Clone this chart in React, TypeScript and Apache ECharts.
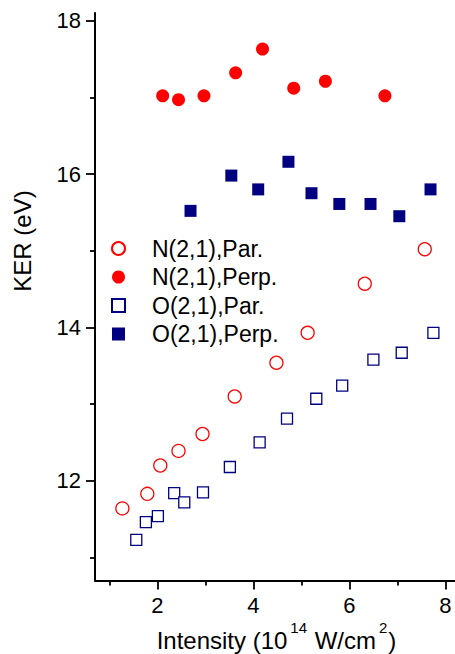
import React, { useEffect, useRef } from "react";
import * as echarts from "echarts";

const FONT = "'Liberation Sans', Arial, Helvetica, sans-serif";

// N(2,1), parallel (open red circles)
const nParX = [1.27, 1.79, 2.06, 2.44, 2.94, 3.61, 4.48, 5.13, 6.32, 7.57];
const nParY = [11.64, 11.83, 12.2, 12.39, 12.61, 13.1, 13.54, 13.93, 14.57, 15.02];
// N(2,1), perpendicular (filled red circles)
const nPerpX = [2.11, 2.44, 2.97, 3.63, 4.19, 4.84, 5.5, 6.74];
const nPerpY = [17.02, 16.97, 17.02, 17.32, 17.63, 17.12, 17.21, 17.02];
// O(2,1), parallel (open navy squares)
const oParX = [1.56, 1.76, 2.01, 2.35, 2.56, 2.95, 3.51, 4.13, 4.7, 5.31, 5.85, 6.5, 7.09, 7.75];
const oParY = [11.23, 11.46, 11.54, 11.84, 11.72, 11.85, 12.18, 12.5, 12.81, 13.07, 13.24, 13.58, 13.67, 13.93];
// O(2,1), perpendicular (filled navy squares)
const oPerpX = [2.69, 3.54, 4.1, 4.73, 5.21, 5.79, 6.44, 7.04, 7.69];
const oPerpY = [15.52, 15.98, 15.8, 16.16, 15.75, 15.61, 15.61, 15.45, 15.8];

const seriesNames = ["N(2,1),Par.", "N(2,1),Perp.", "O(2,1),Par.", "O(2,1),Perp."];

const xMajor = [2, 4, 6, 8];
const xMinor = [1, 3, 5, 7];
const yMajor = [12, 14, 16, 18];
const yMinor = [11, 13, 15, 17];

// x-axis title pieces (superscripts flagged)
const xTitleParts = [
  { t: "Intensity (10", sup: false },
  { t: "14", sup: true },
  { t: " W/cm", sup: false },
  { t: "2", sup: true },
  { t: ")", sup: false },
];
const yTitle = "KER (eV)";

const X_MIN = 0.7;
const X_MAX = 8.2;
const Y_MIN = 10.7;
const Y_MAX = 18.1;

const RED = "#ff0000";
const NAVY = "#000080";

const zip = (xs: number[], ys: number[]) => xs.map((x, i) => [x, ys[i]]);

function buildXTitle(centerX: number, mainY: number, supY: number) {
  const MAIN = 24;
  const SUP = 15;
  const canvas = document.createElement("canvas");
  const ctx = canvas.getContext("2d");
  const measure = (text: string, size: number) => {
    if (!ctx) return text.length * size * 0.55;
    ctx.font = `${size}px ${FONT}`;
    return ctx.measureText(text).width;
  };
  const pieces = xTitleParts.map((p) => {
    const size = p.sup ? SUP : MAIN;
    const padL = p.sup ? 3 : 0;
    const padR = p.sup ? 1 : 0;
    return { ...p, size, padL, w: measure(p.t, size) + padL + padR };
  });
  const total = pieces.reduce((s, p) => s + p.w, 0);
  let x = centerX - total / 2;
  const elems: any[] = [];
  for (const p of pieces) {
    elems.push({
      type: "text",
      x: x + p.padL,
      y: p.sup ? supY : mainY,
      style: {
        text: p.t,
        fontSize: p.size,
        fontFamily: FONT,
        fill: "#000",
        align: "left",
        verticalAlign: "middle",
      },
    });
    x += p.w;
  }
  return elems;
}

export default function App() {
  const ref = useRef<HTMLDivElement>(null);

  useEffect(() => {
    if (!ref.current) return;
    const chart = echarts.init(ref.current, undefined, { renderer: "svg" });

    const axisLineStyle = { color: "#000", width: 2 };
    const tickStyle = { color: "#000", width: 1.8 };
    const labelStyle = { fontSize: 22, color: "#000", fontFamily: FONT };

    const makeX = (values: number[], len: number, main: boolean) => ({
      type: "value",
      min: X_MIN,
      max: X_MAX,
      position: "bottom",
      gridIndex: 0,
      axisLine: { show: main, onZero: false, lineStyle: axisLineStyle },
      axisTick: { show: true, inside: false, length: len, lineStyle: tickStyle, customValues: values },
      axisLabel: main
        ? { show: true, customValues: values, margin: 14, ...labelStyle }
        : { show: false },
      splitLine: { show: false },
    });

    const makeY = (values: number[], len: number, main: boolean) => ({
      type: "value",
      min: Y_MIN,
      max: Y_MAX,
      position: "left",
      gridIndex: 0,
      axisLine: { show: main, onZero: false, lineStyle: axisLineStyle },
      axisTick: { show: true, inside: false, length: len, lineStyle: tickStyle, customValues: values },
      axisLabel: main
        ? { show: true, customValues: values, margin: 14, ...labelStyle }
        : { show: false },
      splitLine: { show: false },
    });

    chart.setOption({
      animation: false,
      backgroundColor: "#fff",
      textStyle: { fontFamily: FONT },
      grid: {
        left: 95,
        top: 13,
        right: 0,
        bottom: 73.5,
        containLabel: false,
        outerBoundsMode: "none",
      },
      xAxis: [makeX(xMajor, 9, true), makeX(xMinor, 5, false)],
      yAxis: [makeY(yMajor, 9, true), makeY(yMinor, 5, false)],
      legend: {
        show: true,
        orient: "vertical",
        left: 111,
        top: 237,
        padding: 0,
        itemWidth: 13,
        itemHeight: 13,
        itemGap: 5.5,
        selectedMode: false,
        textStyle: { fontSize: 23, color: "#000", fontFamily: FONT, padding: [0, 0, 0, 22] },
        data: seriesNames,
      },
      graphic: [
        {
          type: "text",
          x: 22,
          y: 241,
          rotation: Math.PI / 2,
          style: {
            text: yTitle,
            fontSize: 24,
            fontFamily: FONT,
            fill: "#000",
            align: "center",
            verticalAlign: "middle",
          },
        },
        ...buildXTitle(276.5, 640, 627.5),
      ],
      series: [
        {
          name: seriesNames[0],
          type: "scatter",
          symbol: "circle",
          symbolSize: 13,
          data: zip(nParX, nParY),
          itemStyle: { color: "#fff", borderColor: RED, borderWidth: 1.3, opacity: 1 },
        },
        {
          name: seriesNames[1],
          type: "scatter",
          symbol: "circle",
          symbolSize: 13,
          data: zip(nPerpX, nPerpY),
          itemStyle: { color: RED, opacity: 1 },
        },
        {
          name: seriesNames[2],
          type: "scatter",
          symbol: "rect",
          symbolSize: 11,
          data: zip(oParX, oParY),
          itemStyle: { color: "#fff", borderColor: NAVY, borderWidth: 1.3, opacity: 1 },
        },
        {
          name: seriesNames[3],
          type: "scatter",
          symbol: "rect",
          symbolSize: 12,
          data: zip(oPerpX, oPerpY),
          itemStyle: { color: NAVY, opacity: 1 },
        },
      ],
    });

    return () => chart.dispose();
  }, []);

  return (
    <div
      ref={ref}
      style={{ position: "fixed", left: 0, top: 0, width: 455, height: 654, background: "#fff" }}
    />
  );
}
